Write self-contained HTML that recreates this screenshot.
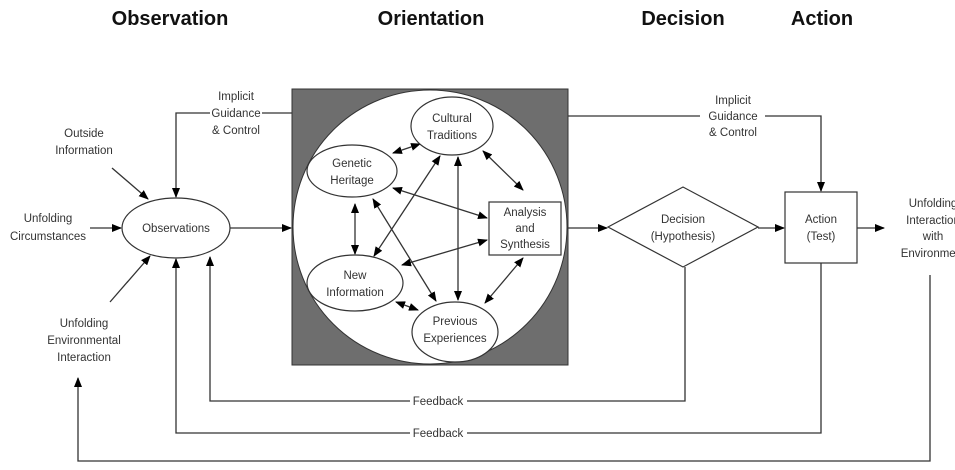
<!DOCTYPE html>
<html><head><meta charset="utf-8"><style>
body{margin:0;background:#fff}
svg text{font-family:"Liberation Sans",sans-serif;fill:#333}
</style></head><body>
<svg width="955" height="465" viewBox="0 0 955 465" xmlns="http://www.w3.org/2000/svg">
<defs>
<marker id="a" markerWidth="10" markerHeight="8" refX="9" refY="4" orient="auto" markerUnits="userSpaceOnUse"><path d="M0,0L10,4L0,8z" fill="#000"/></marker>
<marker id="s" markerWidth="10" markerHeight="8" refX="1" refY="4" orient="auto" markerUnits="userSpaceOnUse"><path d="M10,0L0,4L10,8z" fill="#000"/></marker>
</defs>
<g font-weight="bold" font-size="20" text-anchor="middle" style="fill:#111">
<text x="170" y="25" style="fill:#111">Observation</text>
<text x="431" y="25" style="fill:#111">Orientation</text>
<text x="683" y="25" style="fill:#111">Decision</text>
<text x="822" y="25" style="fill:#111">Action</text>
</g>
<rect x="292" y="89" width="276" height="276" fill="#6e6e6e" stroke="#333"/>
<circle cx="430" cy="227" r="137" fill="#fff" stroke="#333"/>
<g stroke="#333" stroke-width="1.3" fill="none">
<!-- left implicit -->
<polyline points="292,113 262,113"/><polyline points="210,113 176,113 176,197" marker-end="url(#a)"/>
<!-- right implicit -->
<polyline points="568,116 700,116"/><polyline points="765,116 821,116 821,191" marker-end="url(#a)"/>
<line x1="230" y1="228" x2="291" y2="228" marker-end="url(#a)"/>
<line x1="568" y1="228" x2="607" y2="228" marker-end="url(#a)"/>
<line x1="758" y1="228" x2="784" y2="228" marker-end="url(#a)"/>
<line x1="857" y1="228" x2="884" y2="228" marker-end="url(#a)"/>
<line x1="90" y1="228" x2="121" y2="228" marker-end="url(#a)"/>
<line x1="112" y1="168" x2="148" y2="199" marker-end="url(#a)"/>
<line x1="110" y1="302" x2="150" y2="256" marker-end="url(#a)"/>
<!-- feedback -->
<polyline points="685,267 685,401 467,401"/><polyline points="410,401 210,401 210,257" marker-end="url(#a)"/>
<polyline points="821,263 821,433 467,433"/><polyline points="410,433 176,433 176,259" marker-end="url(#a)"/>
<polyline points="930,275 930,461 78,461 78,378" marker-end="url(#a)"/>
<!-- inner arrows -->
<line x1="393" y1="153" x2="420" y2="144" marker-start="url(#s)" marker-end="url(#a)"/>
<line x1="355" y1="204" x2="355" y2="254" marker-start="url(#s)" marker-end="url(#a)"/>
<line x1="393" y1="188" x2="487" y2="218" marker-start="url(#s)" marker-end="url(#a)"/>
<line x1="373" y1="199" x2="436" y2="301" marker-start="url(#s)" marker-end="url(#a)"/>
<line x1="374" y1="256" x2="440" y2="156" marker-start="url(#s)" marker-end="url(#a)"/>
<line x1="458" y1="157" x2="458" y2="300" marker-start="url(#s)" marker-end="url(#a)"/>
<line x1="483" y1="151" x2="523" y2="190" marker-start="url(#s)" marker-end="url(#a)"/>
<line x1="402" y1="265" x2="487" y2="240" marker-start="url(#s)" marker-end="url(#a)"/>
<line x1="396" y1="302" x2="418" y2="310" marker-start="url(#s)" marker-end="url(#a)"/>
<line x1="485" y1="303" x2="523" y2="258" marker-start="url(#s)" marker-end="url(#a)"/>
</g>
<g stroke="#333" stroke-width="1.2" fill="#fff">
<ellipse cx="176" cy="228" rx="54" ry="30"/>
<ellipse cx="452" cy="126" rx="41" ry="29"/>
<ellipse cx="352" cy="171" rx="45" ry="26"/>
<ellipse cx="355" cy="283" rx="48" ry="28"/>
<ellipse cx="455" cy="332" rx="43" ry="30"/>
<rect x="489" y="202" width="72" height="53"/>
<polygon points="608,227 683,187 758,227 683,267"/>
<rect x="785" y="192" width="72" height="71"/>
</g>
<g font-size="11.5" text-anchor="middle">
<text x="176" y="232">Observations</text>
<text x="452" y="122">Cultural</text><text x="452" y="139">Traditions</text>
<text x="352" y="167">Genetic</text><text x="352" y="184">Heritage</text>
<text x="355" y="279">New</text><text x="355" y="296">Information</text>
<text x="455" y="325">Previous</text><text x="455" y="342">Experiences</text>
<text x="525" y="216">Analysis</text><text x="525" y="232">and</text><text x="525" y="248">Synthesis</text>
<text x="683" y="223">Decision</text><text x="683" y="240">(Hypothesis)</text>
<text x="821" y="223">Action</text><text x="821" y="240">(Test)</text>
<text x="236" y="100">Implicit</text><text x="236" y="117">Guidance</text><text x="236" y="134">&amp; Control</text>
<text x="733" y="104">Implicit</text><text x="733" y="120">Guidance</text><text x="733" y="136">&amp; Control</text>
<text x="84" y="137">Outside</text><text x="84" y="154">Information</text>
<text x="48" y="222">Unfolding</text><text x="48" y="240">Circumstances</text>
<text x="84" y="327">Unfolding</text><text x="84" y="344">Environmental</text><text x="84" y="361">Interaction</text>
<text x="438" y="405">Feedback</text>
<text x="438" y="437">Feedback</text>
<text x="933" y="207">Unfolding</text><text x="933" y="224">Interaction</text><text x="933" y="240">with</text><text x="933" y="257">Environment</text>
</g>
</svg>
</body></html>
